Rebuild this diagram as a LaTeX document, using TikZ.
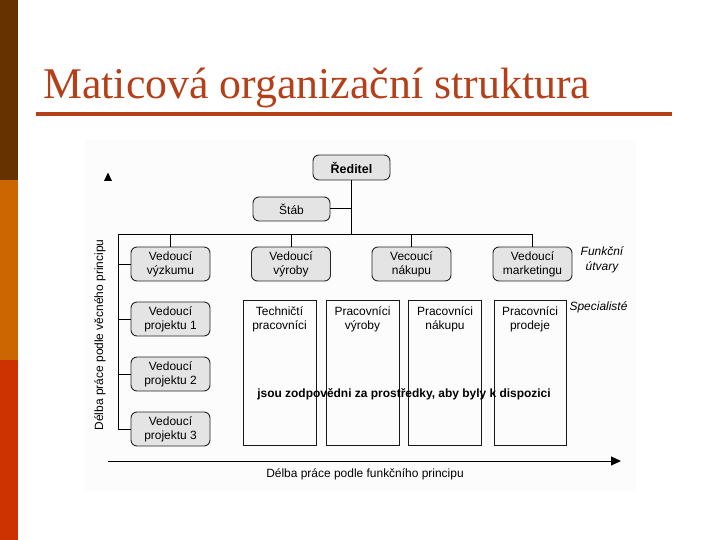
\documentclass[tikz,border=0pt]{standalone}
\usepackage{fontspec}
\usetikzlibrary{arrows.meta}
\newfontfamily\dsf{Liberation Sans}
\newfontfamily\ttlfont{Liberation Serif}
\definecolor{barA}{RGB}{102,51,0}
\definecolor{barB}{RGB}{204,102,0}
\definecolor{barC}{RGB}{204,51,0}
\definecolor{titlec}{RGB}{180,64,26}
\definecolor{boxfill}{RGB}{228,228,228}
\definecolor{bgfig}{RGB}{252,252,252}
\tikzset{
  gbox/.style={draw=black!85, line width=0.9bp, fill=boxfill, rounded corners=6bp,
    minimum width=79bp, minimum height=34bp, inner sep=1bp, align=center,
    font=\dsf\fontsize{12}{14}\selectfont},
  sbox/.style={draw=black!90, line width=0.9bp, minimum width=73bp, minimum height=145bp, inner sep=0pt},
  slabel/.style={anchor=north, align=center, inner sep=6.5bp, font=\dsf\fontsize{12}{14}\selectfont},
  conn/.style={draw=black, line width=1bp},
  itext/.style={font=\dsf\itshape\fontsize{12}{15}\selectfont, align=center, inner sep=0pt},
  ntext/.style={font=\dsf\fontsize{12}{14}\selectfont, inner sep=0pt}
}
\begin{document}
\begin{tikzpicture}[x=1bp,y=-1bp]
\useasboundingbox (0,0) rectangle (720,540);
% side bars
\fill[barA] (0,0) rectangle (18,180);
\fill[barB] (0,180) rectangle (18,360);
\fill[barC] (0,360) rectangle (18,540);
% title
\node[anchor=base west, inner sep=0pt, text=titlec, font=\ttlfont\fontsize{44}{50}\selectfont] (title) at (43,99) {Maticová organizační struktura};
\draw[titlec, line width=3.5bp] (36,114) -- (672,114);
% figure background
\fill[bgfig] (85,140) rectangle (636,490);
% top
\node[gbox, minimum width=77bp, minimum height=25bp, font=\dsf\bfseries\fontsize{12.5}{14}\selectfont] (red) at (351.5,167.5) {Ředitel};
\node[gbox, minimum width=77bp, minimum height=24bp] (stab) at (291.5,209) {Štáb};
% functional heads
\node[gbox] (fz) at (170.5,264) {Vedoucí\\výzkumu};
\node[gbox] (fv) at (291,264) {Vedoucí\\výroby};
\node[gbox] (fn) at (411.5,264) {Vecoucí\\nákupu};
\node[gbox] (fm) at (532.5,264) {Vedoucí\\marketingu};
% project heads
\node[gbox] (p1) at (170.5,319) {Vedoucí\\projektu 1};
\node[gbox] (p2) at (170.5,374) {Vedoucí\\projektu 2};
\node[gbox] (p3) at (170.5,429) {Vedoucí\\projektu 3};
% specialists
\node[sbox] (s1) at (279.5,372.5) {};
\node[sbox] (s2) at (362.5,372.5) {};
\node[sbox] (s3) at (445,372.5) {};
\node[sbox, minimum width=72bp] (s4) at (530,372.5) {};
\node[slabel] at (s1.north) {Techničtí\\pracovníci};
\node[slabel] at (s2.north) {Pracovníci\\výroby};
\node[slabel] at (s3.north) {Pracovníci\\nákupu};
\node[slabel] at (s4.north) {Pracovníci\\prodeje};
\node[font=\dsf\bfseries\fontsize{12}{14}\selectfont, inner sep=0pt] (resp) at (404,394) {jsou zodpovědni za prostředky, aby byly k dispozici};
% side labels
\node[itext] (funk) at (602,259.5) {Funkční\\útvary};
\node[itext] (spec) at (598.5,307) {Specialisté};
% connectors
\coordinate (busL) at (118,235);
\coordinate (busR) at (532.5,235);
\draw[conn] (red.south) -- (red.south |- busL);
\draw[conn] (stab.east) -- (stab.east -| red.south);
\draw[conn] (busL) -- (busR);
\foreach \b in {fz,fv,fn,fm} {\draw[conn] (\b.north) -- (\b.north |- busL);}
\draw[conn] (busL) -- (busL |- p3.west) -- (p3.west);
\foreach \b in {fz,p1,p2} {\draw[conn] (\b.west) -- (\b.west -| busL);}
% axes
\coordinate (ax0) at (108,461);
\coordinate (ax1) at (621,461);
\draw[line width=1bp, -{Triangle[length=10bp,width=9bp]}] (ax0) -- (ax1);
\node[ntext] (xlab) at (365,474) {Délba práce podle funkčního principu};
\fill (104,181) -- (112,181) -- (108,172.5) -- cycle;
\node[ntext, rotate=90] (ylab) at (100,335) {Délba práce podle věcného principu};
\end{tikzpicture}
\end{document}
